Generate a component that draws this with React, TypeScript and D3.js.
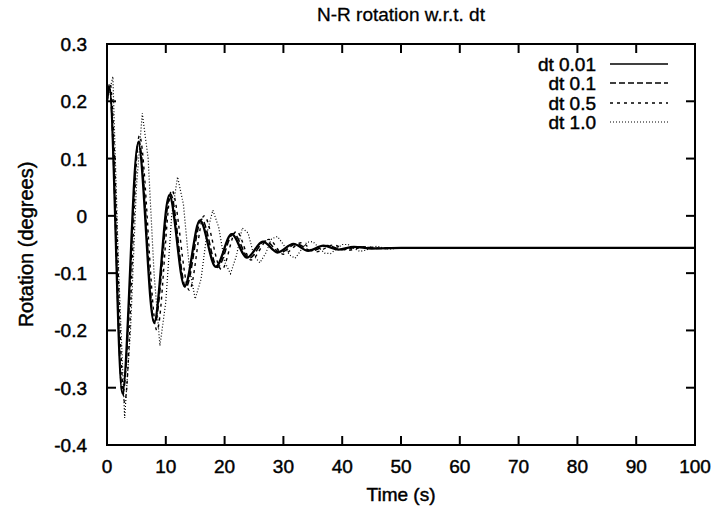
import React from 'react';
import * as d3 from 'd3';

const xTicks = [0, 10, 20, 30, 40, 50, 60, 70, 80, 90, 100];
const yTicks = [0.3, 0.2, 0.1, 0, -0.1, -0.2, -0.3, -0.4];
const yTickLabels = ['0.3', '0.2', '0.1', '0', '-0.1', '-0.2', '-0.3', '-0.4'];
const seriesNames = ['dt 0.01', 'dt 0.1', 'dt 0.5', 'dt 1.0'];

// dt 0.01 (key points: extrema)
const t001 = [0, 0.4, 2.6, 5.3, 8.0, 10.6, 13.2, 15.8, 18.5, 21.2, 23.8, 26.5, 29.0, 31.7, 34.2, 36.8, 39.4, 42, 45, 50, 100];
const v001 = [0.2, 0.225, -0.31, 0.128, -0.186, 0.036, -0.123, -0.008, -0.089, -0.032, -0.073, -0.045, -0.064, -0.049, -0.061, -0.052, -0.059, -0.054, -0.057, -0.056, -0.056];

// dt 0.1
const t01 = [0, 0.4, 2.65, 5.4, 8.1, 10.8, 13.4, 16.1, 18.8, 21.5, 24.2, 26.9, 29.5, 32.2, 34.8, 37.5, 40.1, 43, 46, 50, 100];
const v01 = [0.2, 0.226, -0.312, 0.13, -0.188, 0.038, -0.125, -0.006, -0.09, -0.031, -0.074, -0.044, -0.064, -0.049, -0.061, -0.052, -0.059, -0.054, -0.057, -0.056, -0.056];

// dt 0.5
const t05 = [0, 0.5, 3.0, 5.5, 8.5, 11.0, 14.0, 16.5, 19.5, 22.0, 24.5, 27.5, 30.0, 33.0, 35.5, 38.5, 41.0, 44, 47, 50, 100];
const v05 = [0.2, 0.232, -0.325, 0.14, -0.2, 0.045, -0.13, 0.0, -0.094, -0.027, -0.077, -0.041, -0.067, -0.047, -0.063, -0.051, -0.06, -0.054, -0.057, -0.056, -0.056];

// dt 1.0 (sampled every second)
const t10 = [0, 1, 2, 3, 4, 5, 6, 7, 8, 9, 10, 11, 12, 13, 14, 15, 16, 17, 18, 19, 20, 21, 22, 23, 24, 25, 26, 27, 28, 29, 30, 31, 32, 33, 34, 35, 36, 37, 38, 39, 40, 41, 42, 43, 44, 45, 46, 47, 48, 50, 100];
const v10 = [0.2, 0.243, -0.1, -0.353, -0.2, 0.05, 0.179, 0.1, -0.1, -0.227, -0.15, 0.0, 0.068, 0.02, -0.09, -0.145, -0.11, -0.03, 0.01, -0.02, -0.08, -0.101, -0.07, -0.021, -0.03, -0.07, -0.082, -0.065, -0.04, -0.036, -0.05, -0.068, -0.074, -0.06, -0.046, -0.045, -0.055, -0.065, -0.066, -0.058, -0.05, -0.05, -0.057, -0.062, -0.06, -0.055, -0.053, -0.056, -0.058, -0.056, -0.056];

const W = 717, H = 513;
const L = 107, R = 695, T = 44, B = 445;
const font = 'Liberation Sans, Arial, Helvetica, sans-serif';
const ts = { fill: '#000', stroke: '#000', strokeWidth: 0.45 };

export default function App() {
  const x = d3.scaleLinear().domain([0, 100]).range([L, R]);
  const y = d3.scaleLinear().domain([-0.4, 0.3]).range([B, T]);
  const smooth = d3.line<[number, number]>().x(d => x(d[0])).y(d => y(d[1])).curve(d3.curveMonotoneX);
  const lin = d3.line<[number, number]>().x(d => x(d[0])).y(d => y(d[1]));
  const zip = (a: number[], b: number[]) => a.map((t, i) => [t, b[i]] as [number, number]);

  const series = [
    { d: smooth(zip(t001, v001)), dash: 'none', w: 2.3, lw: 1.6 },
    { d: smooth(zip(t01, v01)), dash: '6,3', w: 1.6, lw: 1.4 },
    { d: smooth(zip(t05, v05)), dash: '3,4', w: 1.4, lw: 1.3 },
    { d: lin(zip(t10, v10)), dash: '1,2', w: 1.2, lw: 1.1 },
  ];
  const tickLen = 9;
  const legY = [64, 83, 103, 122];

  return (
    <svg width={W} height={H} style={{ position: 'absolute', left: 0, top: 0, background: '#fff' }} fontFamily={font}>
      <rect x={0} y={0} width={W} height={H} fill="#fff" />
      <text x={(L + R) / 2} y={21} textAnchor="middle" fontSize={19} {...ts} strokeWidth={0.3}>N-R rotation w.r.t. dt</text>
      {series.map((s, i) => (
        <path key={i} d={s.d || ''} fill="none" stroke="#000" strokeWidth={s.w} strokeDasharray={s.dash} />
      ))}
      <rect x={L} y={T} width={R - L} height={B - T} fill="none" stroke="#000" strokeWidth={2} />
      {xTicks.map(t => (
        <g key={'x' + t}>
          <line x1={x(t)} x2={x(t)} y1={B} y2={B - tickLen} stroke="#000" strokeWidth={2} />
          <line x1={x(t)} x2={x(t)} y1={T} y2={T + tickLen} stroke="#000" strokeWidth={2} />
          <text x={x(t)} y={473} textAnchor="middle" fontSize={19} {...ts}>{t}</text>
        </g>
      ))}
      {yTicks.map((v, i) => (
        <g key={'y' + i}>
          <line x1={L} x2={L + tickLen} y1={y(v)} y2={y(v)} stroke="#000" strokeWidth={2} />
          <line x1={R} x2={R - tickLen} y1={y(v)} y2={y(v)} stroke="#000" strokeWidth={2} />
          <text x={87} y={y(v) + 7} textAnchor="end" fontSize={19} {...ts}>{yTickLabels[i]}</text>
        </g>
      ))}
      <text x={(L + R) / 2} y={501} textAnchor="middle" fontSize={19} {...ts}>Time (s)</text>
      <text transform={`translate(33, ${(T + B) / 2}) rotate(-90)`} textAnchor="middle" fontSize={20} {...ts}>Rotation (degrees)</text>
      {seriesNames.map((n, i) => (
        <g key={n}>
          <text x={596} y={legY[i] + 7} textAnchor="end" fontSize={19} {...ts}>{n}</text>
          <line x1={610} x2={668} y1={legY[i]} y2={legY[i]} stroke="#000" strokeWidth={series[i].lw} strokeDasharray={series[i].dash} />
        </g>
      ))}
    </svg>
  );
}
